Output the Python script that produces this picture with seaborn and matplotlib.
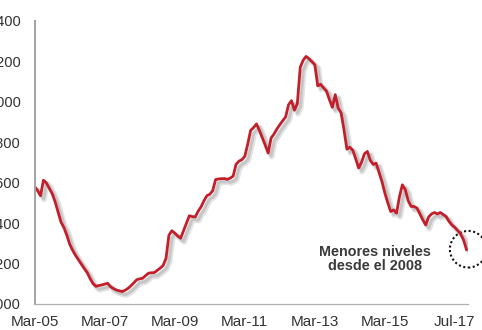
import numpy as np
import pandas as pd
import matplotlib
matplotlib.use("Agg")
import matplotlib.pyplot as plt
import matplotlib.patheffects as pe
import matplotlib.transforms as mtransforms
from matplotlib.patches import Circle
import seaborn as sns

# Monthly series, Mar-2005 onward
values = [
    1580, 1560, 1535, 1612, 1598, 1572, 1545, 1505, 1455, 1405,
    1378, 1340, 1295, 1265, 1240, 1218, 1196, 1175, 1155, 1125,
    1100, 1087, 1091, 1094, 1098, 1102, 1085, 1076, 1069, 1065,
    1061, 1068, 1077, 1090, 1105, 1120, 1124, 1127, 1140, 1152,
    1154, 1155, 1166, 1177, 1190, 1225, 1340, 1362, 1350, 1336,
    1325, 1362, 1400, 1436, 1432, 1430, 1458, 1480, 1510, 1535,
    1542, 1560, 1615, 1618, 1619, 1620, 1616, 1622, 1632, 1690,
    1706, 1713, 1730, 1790, 1858, 1872, 1890, 1858, 1822, 1785,
    1746, 1820, 1840, 1865, 1886, 1906, 1925, 1985, 2005, 1958,
    1990, 2170, 2205, 2224, 2212, 2198, 2183, 2078, 2086, 2068,
    2052, 2010, 1972, 2035, 1968, 1945, 1860, 1765, 1775, 1760,
    1718, 1672, 1700, 1742, 1754, 1710, 1690, 1696, 1650, 1605,
    1548, 1500, 1457, 1465, 1449, 1530, 1589, 1565, 1510, 1482,
    1482, 1474, 1445, 1416, 1390, 1430, 1445, 1452, 1445, 1452,
    1442, 1432, 1408, 1390, 1378, 1362, 1345, 1315, 1267,
]
period = list(range(len(values)))

tick_labels = ["Mar-05", "Mar-07", "Mar-09", "Mar-11", "Mar-13", "Mar-15", "Jul-17"]
y_ticks = [1000, 1200, 1400, 1600, 1800, 2000, 2200, 2400]

note = "Menores niveles\ndesde el 2008"

df = pd.DataFrame({"periodo": period, "valor": values})

sns.set_style("white")
plt.rcParams["font.family"] = ["Liberation Sans", "DejaVu Sans"]

fig = plt.figure(figsize=(4.82, 3.30), dpi=100)
ax = fig.add_axes([0.072, 0.079, 0.899, 0.858])

line_color = "#C41E2A"
sns.lineplot(data=df, x="periodo", y="valor", ax=ax, color=line_color,
             linewidth=2.0, legend=False)
ax.lines[0].set_path_effects([
    pe.SimpleLineShadow(offset=(2.6, -2.6), shadow_color="#555555", alpha=0.16,
                        linewidth=4.0),
    pe.SimpleLineShadow(offset=(2.2, -2.2), shadow_color="#555555", alpha=0.2,
                        linewidth=2.2),
    pe.Normal(),
])

ax.set_xlim(0, 148.5)
ax.set_ylim(1000, 2400)
ax.set_xticks(np.arange(len(tick_labels)) * 24)
ax.set_xticklabels(tick_labels)
ax.set_yticks(y_ticks)
ax.set_yticklabels([f"{v:,}" for v in y_ticks])
ax.set_xlabel("")
ax.set_ylabel("")

for side in ("top", "right"):
    ax.spines[side].set_visible(False)
ax.spines["left"].set_color("#a3a3a3")
ax.spines["left"].set_linewidth(1.4)
ax.spines["bottom"].set_color("#b0b0b0")
ax.spines["bottom"].set_linewidth(0.9)

ax.tick_params(axis="x", direction="out", length=3.5, width=0.9, color="#a0a0a0",
               labelsize=11.0, labelcolor="#333333", pad=4.5)
ax.tick_params(axis="y", direction="out", length=3.0, width=0.9, color="#a0a0a0",
               labelsize=10.5, labelcolor="#333333", pad=7)
for lab in ax.get_yticklabels():
    lab.set_fontfamily(["Liberation Sans Narrow", "Liberation Sans", "DejaVu Sans"])

ax.text(0.785, 0.159, note, transform=ax.transAxes, ha="center", va="center",
        fontsize=10.4, fontweight="bold", color="#3a3a3a", linespacing=1.05)

# dotted ring around the latest reading
ring_tf = fig.dpi_scale_trans + mtransforms.ScaledTranslation(
    period[-1], values[-1], ax.transData) + mtransforms.Affine2D().translate(1.6, 0.7)
ring = Circle((0, 0), radius=0.183, transform=ring_tf, fill=False,
              edgecolor="#111111", linewidth=1.5, linestyle=(0, (1, 1.2)),
              clip_on=False)
ax.add_patch(ring)

fig.savefig("out.png", dpi=100)
